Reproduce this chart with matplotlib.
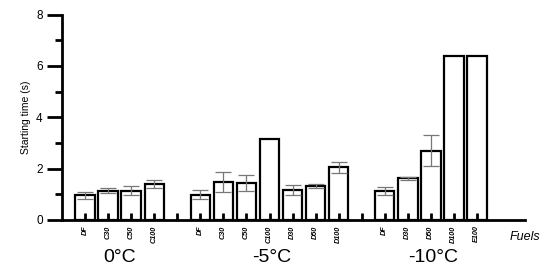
import matplotlib
matplotlib.use('Agg')
import matplotlib.pyplot as plt
from matplotlib.ticker import MultipleLocator

plt.rcParams['font.family'] = ['Liberation Sans', 'DejaVu Sans']

# data
groups = ['0°C', '-5°C', '-10°C']
fuels_0 = ['DF', 'C30', 'C50', 'C100']
time_0 = [0.96, 1.14, 1.14, 1.40]
err_0 = [0.14, 0.10, 0.17, 0.15]

fuels_5 = ['DF', 'C30', 'C50', 'C100', 'D30', 'D50', 'D100']
time_5 = [0.99, 1.48, 1.44, 3.17, 1.17, 1.33, 2.05]
err_5 = [0.19, 0.38, 0.30, 0.0, 0.20, 0.08, 0.21]

fuels_10 = ['DF', 'D30', 'D50', 'D100', 'E100']
time_10 = [1.12, 1.62, 2.70, 6.40, 6.38]
err_10 = [0.16, 0.06, 0.60, 0.0, 0.0]

# one empty slot between the temperature groups
labels = fuels_0 + [''] + fuels_5 + [''] + fuels_10
values = time_0 + [None] + time_5 + [None] + time_10
errors = err_0 + [None] + err_5 + [None] + err_10
pos = list(range(1, len(labels) + 1))

fig = plt.figure(figsize=(5.5, 2.75), dpi=100)
ax = fig.add_axes([0.113, 0.2, 0.842, 0.747])

bx = [p for p, v in zip(pos, values) if v is not None]
bv = [v for v in values if v is not None]
be = [e for e in errors if e is not None]

ax.bar(bx, bv, width=0.85, color='white', edgecolor='black', linewidth=1.6, zorder=1)
ex = [x for x, e in zip(bx, be) if e > 0]
ev = [v for v, e in zip(bv, be) if e > 0]
ee = [e for e in be if e > 0]
ax.errorbar(ex, ev, yerr=ee, fmt='none', ecolor='#777777', elinewidth=0.9,
            capsize=5.5, capthick=0.9, zorder=2)

ax.set_xlim(0, 20.1)
ax.set_ylim(0, 8)
ax.spines['top'].set_visible(False)
ax.spines['right'].set_visible(False)
ax.spines['left'].set_linewidth(2)
ax.spines['bottom'].set_linewidth(2)

ax.yaxis.set_major_locator(MultipleLocator(2))
ax.yaxis.set_minor_locator(MultipleLocator(1))
ax.tick_params(axis='y', which='major', length=11, width=2, labelsize=8.5, pad=3)
ax.tick_params(axis='y', which='minor', length=5, width=2)
ax.set_ylabel('Starting time (s)', fontsize=7.5, labelpad=4)

ax.set_xticks(pos)
ax.set_xticklabels(labels, rotation=90, fontsize=5.2, fontstyle='italic', fontweight='bold')
ax.tick_params(axis='x', direction='in', length=5, width=2, pad=4)

# group labels under the fuels
centers = [2.5, 9.1, 16.1]
for c, g in zip(centers, groups):
    ax.text(c, -0.205, g, transform=ax.get_xaxis_transform(), ha='center', va='baseline',
            fontsize=14)

ax.text(1.0, -0.083, 'Fuels', transform=ax.transAxes, ha='center', va='center',
        fontsize=9, fontstyle='italic')

fig.savefig('out.png', dpi=100)
